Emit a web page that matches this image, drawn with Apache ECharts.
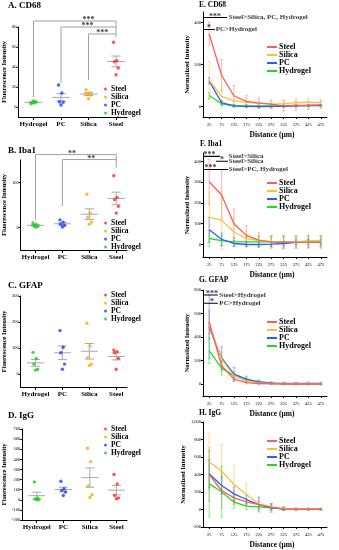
<!DOCTYPE html>
<html><head><meta charset="utf-8">
<script src="https://cdn.jsdelivr.net/npm/echarts@6/dist/echarts.min.js"></script>
<style>html,body{margin:0;padding:0;background:#fff}#c{width:339px;height:550px}</style>
</head><body><div id="c"></div>
<script>
// ---------- data ----------
const categories = ['Hydrogel', 'PC', 'Silica', 'Steel'];
const groupNames = ['Steel', 'Silica', 'PC', 'Hydrogel'];
const distances = [25, 75, 125, 175, 225, 275, 325, 375, 425, 475];

// A. CD68 (fluorescence intensity, individual animals)
const cd68Hydrogel = [3.2, 4.0, 4.6, 5.2, 6.0];
const cd68PC = [22, 14, 5.3, 4.7, 2];
const cd68Silica = [17.3, 14, 13, 12, 8.3];
const cd68Steel = [64.7, 46.3, 45.3, 39, 32.3];
// B. Iba1
const iba1Hydrogel = [10, 7, 4, 2, 1];
const iba1PC = [17, 12, 7, 4.5, 1];
const iba1Silica = [74, 32, 23, 12, 7];
const iba1Steel = [115, 67, 62, 47, 32];
// C. GFAP
const gfapHydrogel = [83, 60, 38, 18, 15];
const gfapPC = [167, 103, 82, 38, 18];
const gfapSilica = [195, 108, 63, 38, 33];
const gfapSteel = [92, 86, 82, 60, 18];
// D. IgG
const iggHydrogel = [177, 15, 8, 3, 0];
const iggPC = [183, 110, 93, 77, 43];
const iggSilica = [510, 377, 137, 50, 23];
const iggSteel = [250, 157, 43, 17, 10];

// E. CD68 normalized intensity vs distance (mean, error)
const cd68DistSteel = [345, 149, 50, 24, 16, 11, 3, 5, 6, 8];
const cd68DistSilica = [125, 48, 27, 20, 16, 11, 14, 18, 21, 18];
const cd68DistPC = [122, 18, 3, 1, 0, 1, 1, 3, 4, 5];
const cd68DistHydrogel = [52, 13, 3, 3, 2, 3, 3, 4, 4, 4];
const cd68ErrSteel = [55, 75, 50, 30, 25, 20, 25, 22, 20, 18];
const cd68ErrSilica = [90, 55, 30, 20, 15, 15, 18, 20, 18, 15];
const cd68ErrPC = [15, 10, 5, 5, 5, 5, 5, 5, 5, 5];
const cd68ErrHydrogel = [15, 8, 5, 5, 5, 5, 5, 5, 5, 5];
// F. Iba1
const iba1DistSteel = [302, 238, 100, 44, 21, 13, 10, 10, 10, 10];
const iba1DistSilica = [132, 116, 60, 29, 19, 13, 10, 13, 16, 16];
const iba1DistPC = [71, 25, 5, 0, 0, 2, 5, 10, 13, 11];
const iba1DistHydrogel = [29, 19, 13, 13, 13, 13, 13, 13, 16, 16];
const iba1ErrSteel = [108, 116, 71, 45, 36, 31, 30, 28, 28, 28];
const iba1ErrSilica = [120, 140, 70, 35, 25, 22, 25, 22, 22, 22];
const iba1ErrPC = [60, 30, 15, 10, 10, 10, 10, 12, 12, 12];
const iba1ErrHydrogel = [40, 25, 20, 25, 25, 25, 30, 30, 30, 28];
// G. GFAP
const gfapDistSteel = [528, 157, 43, 14, 6, 3, 2, 2, 2, 2];
const gfapDistSilica = [500, 214, 71, 29, 11, 5, 3, 3, 3, 3];
const gfapDistPC = [486, 223, 86, 43, 20, 9, 6, 6, 6, 6];
const gfapDistHydrogel = [286, 137, 71, 37, 20, 11, 3, 1, 0, 0];
const gfapErrSteel = [100, 50, 20, 10, 8, 5, 5, 5, 5, 5];
const gfapErrSilica = [120, 60, 30, 15, 10, 8, 5, 5, 5, 5];
const gfapErrPC = [270, 95, 57, 25, 15, 10, 10, 10, 12, 12];
const gfapErrHydrogel = [110, 60, 30, 15, 10, 8, 5, 5, 5, 5];
// H. IgG
const iggDistSteel = [400, 217, 133, 88, 57, 27, 8, 3, 3, 3];
const iggDistSilica = [545, 438, 286, 171, 65, 27, 11, 5, 5, 5];
const iggDistPC = [408, 274, 179, 114, 57, 19, 4, 2, 2, 2];
const iggDistHydrogel = [293, 202, 84, 38, 30, 19, 11, 5, 5, 5];
const iggErrSteel = [305, 200, 80, 40, 40, 30, 20, 10, 10, 10];
const iggErrSilica = [330, 305, 220, 125, 70, 40, 20, 15, 10, 10];
const iggErrPC = [160, 100, 80, 50, 85, 50, 15, 10, 10, 10];
const iggErrHydrogel = [380, 290, 70, 40, 30, 25, 20, 10, 10, 10];

// tick labels
const ticksA = [0, 20, 40, 60, 80];
const ticksB = [0, 100];
const ticksC = [0, 100, 200, 300];
const ticksD = [-200, -100, 0, 100, 200, 300, 400, 500, 600, 700];
const ticksE = [0, 200, 400];
const ticksF = [0, 100, 200, 300, 400];
const ticksG = [0, 200, 400, 600, 800];
const ticksH = [-200, 0, 200, 400, 600, 800, 1000];

// significance annotations (data coordinates)
const sigA = [
  {from: 'Hydrogel', low: 10, high: 86, text: '***', textAt: 3.0},
  {from: 'PC', low: 24, high: 80, text: '***', textAt: 2.96},
  {from: 'Silica', low: 27, high: 73, text: '***', textAt: 3.5}
];
const sigAEnd = 70;
const sigB = [
  {from: 'Hydrogel', low: 18, high: 162, text: '**', textAt: 2.36},
  {from: 'PC', low: 47, high: 151, text: '**', textAt: 3.07}
];
const sigBEnd = 133;
const sigE = [
  {x0: 0, x1: 97, y: 424, stars: '***', starsAt: 48, text: 'Steel>Silica, PC, Hydrogel', textAt: 104},
  {x0: 0, x1: 48, y: 367, stars: '*', starsAt: 24, text: 'PC>Hydrogel', textAt: 51}
];
const sigF = [
  {x0: 0, x1: 69, y: 424, stars: '***', starsAt: 26, text: 'Steel>Silica', textAt: 104},
  {x0: 52, x1: 101, y: 400, stars: '*', starsAt: 77, text: 'Steel>Silica', textAt: 104},
  {x0: 0, x1: 101, y: 361, stars: '***', starsAt: 30, text: 'Steel>PC, Hydrogel', textAt: 104}
];
const sigG = [
  {x0: 0, x1: 60, y: 757, stars: '***', starsAt: 36, text: 'Steel>Hydrogel', textAt: 66},
  {x0: 0, x1: 60, y: 688, stars: '*', starsAt: 36, text: 'PC>Hydrogel', textAt: 66}
];

// ---------- chart ----------
const FONT = 'Liberation Serif';
const scatterColors = {Steel: '#ff2b2b', Silica: '#ffaa00', PC: '#1e3cff', Hydrogel: '#17d017'};
const lineColors = {Steel: '#ff5c5c', Silica: '#ffbe3c', PC: '#2d5bff', Hydrogel: '#1fdc1f'};
const errColors = {Steel: 'rgba(255,110,110,0.45)', Silica: 'rgba(255,190,60,0.45)', PC: 'rgba(45,91,255,0.4)', Hydrogel: 'rgba(31,220,31,0.45)'};
const jitter = [-0.09, 0.03, -0.06, 0.08, 0.0];

const option = {animation: false, backgroundColor: '#fff', title: [], legend: [], grid: [], xAxis: [], yAxis: [], series: []};

function seg(a, b, color, w) {
  return {type: 'line', shape: {x1: a[0], y1: a[1], x2: b[0], y2: b[1]}, style: {stroke: color, lineWidth: w}};
}
function meanSem(arr) {
  const n = arr.length, m = arr.reduce((s, v) => s + v, 0) / n;
  const sd = Math.sqrt(arr.reduce((s, v) => s + (v - m) * (v - m), 0) / (n - 1));
  return [m, sd / Math.sqrt(n)];
}
function axisCommon() {
  return {axisLine: {show: true, onZero: false, lineStyle: {color: '#000', width: 1}}, splitLine: {show: false}};
}

function addTitle(text, left, top, size) {
  option.title.push({text, left, top, padding: 0, textStyle: {fontFamily: FONT, fontSize: size, fontWeight: 'bold', color: '#000'}});
}

function addScatterPanel(p) {
  const g = option.grid.length;
  option.grid.push({left: p.left, top: p.top, width: p.width, height: p.height});
  addTitle(p.title, p.titleX, p.titleY, 9);
  option.xAxis.push(Object.assign(axisCommon(), {
    gridIndex: g, type: 'value', min: 0.45, max: 4.4,
    axisTick: {show: true, customValues: [1, 2, 3, 4], length: 3, lineStyle: {color: '#000'}},
    axisLabel: {customValues: [1, 2, 3, 4], formatter: v => categories[Math.round(v) - 1], fontFamily: FONT, fontSize: 7, fontWeight: 'bold', color: '#000', margin: 4}
  }));
  option.yAxis.push(Object.assign(axisCommon(), {
    gridIndex: g, type: 'value', min: p.ymin, max: p.ymax,
    name: 'Fluorescence Intensity', nameLocation: 'middle', nameGap: 9, nameRotate: 90,
    nameTextStyle: {fontFamily: FONT, fontSize: 6.5, fontWeight: 'bold', color: '#000'},
    axisTick: {show: true, customValues: p.ticks, length: 2, lineStyle: {color: '#000'}},
    axisLabel: {customValues: p.ticks, fontFamily: FONT, fontSize: 4.5, color: '#000', margin: 2}
  }));
  // mean / SEM
  option.series.push({
    type: 'custom', name: 'ms' + g, xAxisIndex: g, yAxisIndex: g, z: 2,
    data: categories.map((c, i) => [i + 1].concat(meanSem(p.data[c]))),
    encode: {x: 0, y: 1},
    renderItem: (params, api) => {
      const x = api.value(0), m = api.value(1), s = api.value(2);
      const pm = api.coord([x, m]), pt = api.coord([x, m + s]), pb = api.coord([x, m - s]);
      const half = api.size([0.32, 0])[0], cap = api.size([0.17, 0])[0];
      const c = '#a9a9a9';
      return {type: 'group', children: [
        seg([pm[0] - half, pm[1]], [pm[0] + half, pm[1]], c, 1),
        seg(pt, pb, c, 1),
        seg([pt[0] - cap, pt[1]], [pt[0] + cap, pt[1]], c, 1),
        seg([pb[0] - cap, pb[1]], [pb[0] + cap, pb[1]], c, 1)
      ]};
    }
  });
  groupNames.forEach(gn => {
    const ci = categories.indexOf(gn) + 1;
    option.series.push({
      type: 'scatter', name: gn + '|' + g, xAxisIndex: g, yAxisIndex: g, z: 5,
      symbol: 'circle', symbolSize: 3.4, itemStyle: {color: scatterColors[gn]},
      data: p.data[gn].map((v, i) => [ci + jitter[i % jitter.length], v])
    });
  });
  option.legend.push({
    orient: 'vertical', left: p.legendX, top: p.legendY, padding: 0, itemGap: 0,
    itemWidth: 3, itemHeight: 3, selectedMode: false,
    data: groupNames.map(n => ({name: n + '|' + g, icon: 'circle'})),
    formatter: n => n.split('|')[0],
    textStyle: {fontFamily: FONT, fontSize: 7.5, fontWeight: 'bold', color: '#000', lineHeight: 6.4, padding: [0, 0, 0, -1]}
  });
  // brackets
  if (p.sig) {
    const annoStyle = {color: '#a0a0a0', width: 1};
    p.sig.forEach(s => {
      const x0 = categories.indexOf(s.from) + 1;
      option.series.push({type: 'line', name: 'br', xAxisIndex: g, yAxisIndex: g, clip: false, symbol: 'none', silent: true,
        lineStyle: annoStyle, data: [[x0, s.low], [x0, s.high], [4, s.high]]});
      option.series.push({type: 'scatter', name: 'st', xAxisIndex: g, yAxisIndex: g, clip: false, symbolSize: 0, silent: true,
        data: [{name: s.text, value: [s.textAt, s.high]}],
        label: {show: true, formatter: '{b}', position: 'top', distance: -3, fontFamily: FONT, fontSize: 8, fontWeight: 'bold', color: '#000'}});
    });
    option.series.push({type: 'line', name: 'br', xAxisIndex: g, yAxisIndex: g, clip: false, symbol: 'none', silent: true,
      lineStyle: annoStyle, data: [[4, p.sig[0].high], [4, p.sigEnd]]});
  }
}

function addLinePanel(p) {
  const g = option.grid.length;
  option.grid.push({left: p.left, top: p.top, width: p.width, height: p.height});
  addTitle(p.title, p.titleX, p.titleY, 7.5);
  option.xAxis.push(Object.assign(axisCommon(), {
    gridIndex: g, type: 'value', min: 0, max: 500,
    name: 'Distance (μm)', nameLocation: 'middle', nameGap: 14,
    nameTextStyle: {fontFamily: FONT, fontSize: 7.5, fontWeight: 'bold', color: '#000', padding: [0, 0, 0, 14]},
    axisTick: {show: true, customValues: distances, length: 2, lineStyle: {color: '#000'}},
    axisLabel: {customValues: distances, fontFamily: FONT, fontSize: 4.5, color: '#000', margin: 5}
  }));
  option.yAxis.push(Object.assign(axisCommon(), {
    gridIndex: g, type: 'value', min: p.ymin, max: p.ymax,
    name: 'Normalized Intensity', nameLocation: 'middle', nameGap: 10, nameRotate: 90,
    nameTextStyle: {fontFamily: FONT, fontSize: 6.5, fontWeight: 'bold', color: '#000'},
    axisTick: {show: true, customValues: p.ticks, length: 2, lineStyle: {color: '#000'}},
    axisLabel: {customValues: p.ticks, fontFamily: FONT, fontSize: 4.5, color: '#000', margin: 2}
  }));
  groupNames.forEach(gn => {
    option.series.push({
      type: 'custom', name: 'err' + gn + g, xAxisIndex: g, yAxisIndex: g, z: 2,
      data: distances.map((d, i) => [d, p.mean[gn][i], p.err[gn][i]]),
      encode: {x: 0, y: 1},
      renderItem: (params, api) => {
        const x = api.value(0), m = api.value(1), e = api.value(2);
        const pt = api.coord([x, m + e]), pb = api.coord([x, m - e]);
        const c = errColors[gn];
        return {type: 'group', children: [
          seg(pt, pb, c, 1.2),
          seg([pt[0] - 1.5, pt[1]], [pt[0] + 1.5, pt[1]], c, 1),
          seg([pb[0] - 1.5, pb[1]], [pb[0] + 1.5, pb[1]], c, 1)
        ]};
      }
    });
  });
  groupNames.slice().reverse().forEach(gn => {
    option.series.push({
      type: 'line', name: gn + '|' + g, xAxisIndex: g, yAxisIndex: g, z: 4,
      symbol: 'none', lineStyle: {color: lineColors[gn], width: 1.3}, itemStyle: {color: lineColors[gn]},
      data: distances.map((d, i) => [d, p.mean[gn][i]])
    });
  });
  option.legend.push({
    orient: 'vertical', left: p.legendX, top: p.legendY, padding: 0, itemGap: 0,
    itemWidth: 10, itemHeight: 2, selectedMode: false,
    data: groupNames.map(n => ({name: n + '|' + g, icon: 'rect'})),
    formatter: n => n.split('|')[0],
    textStyle: {fontFamily: FONT, fontSize: 8, fontWeight: 'bold', color: '#000', lineHeight: 7.2, padding: [0, 0, 0, -3]}
  });
  if (p.sig) {
    p.sig.forEach(s => {
      option.series.push({type: 'line', name: 'an', xAxisIndex: g, yAxisIndex: g, clip: false, symbol: 'none', silent: true,
        lineStyle: {color: '#000', width: 1.1}, data: [[s.x0, s.y], [s.x1, s.y]]});
      option.series.push({type: 'scatter', name: 'st', xAxisIndex: g, yAxisIndex: g, clip: false, symbolSize: 0, silent: true,
        data: [{name: s.stars, value: [s.starsAt, s.y]}],
        label: {show: true, formatter: '{b}', position: 'top', distance: -3, fontFamily: FONT, fontSize: 8, fontWeight: 'bold', color: '#000'}});
      option.series.push({type: 'scatter', name: 'tx', xAxisIndex: g, yAxisIndex: g, clip: false, symbolSize: 0, silent: true,
        data: [{name: s.text, value: [s.textAt, s.y]}],
        label: {show: true, formatter: '{b}', position: 'right', distance: 0, fontFamily: FONT, fontSize: 7, fontWeight: 'bold', color: '#000'}});
    });
  }
}

// left column
addScatterPanel({title: 'A. CD68', titleX: 8, titleY: 1, left: 17, top: 27, width: 110, height: 90, ymin: -10, ymax: 80, ticks: ticksA,
  data: {Hydrogel: cd68Hydrogel, PC: cd68PC, Silica: cd68Silica, Steel: cd68Steel}, legendX: 104, legendY: 85, sig: sigA, sigEnd: sigAEnd});
addScatterPanel({title: 'B. Iba1', titleX: 8, titleY: 146, left: 17, top: 160, width: 110, height: 90, ymin: -50, ymax: 150, ticks: ticksB,
  data: {Hydrogel: iba1Hydrogel, PC: iba1PC, Silica: iba1Silica, Steel: iba1Steel}, legendX: 104, legendY: 219, sig: sigB, sigEnd: sigBEnd});
addScatterPanel({title: 'C. GFAP', titleX: 8, titleY: 281, left: 17, top: 296, width: 110, height: 91, ymin: -50, ymax: 300, ticks: ticksC,
  data: {Hydrogel: gfapHydrogel, PC: gfapPC, Silica: gfapSilica, Steel: gfapSteel}, legendX: 104, legendY: 291});
addScatterPanel({title: 'D. IgG', titleX: 8, titleY: 411, left: 17, top: 429, width: 110, height: 91, ymin: -200, ymax: 700, ticks: ticksD,
  data: {Hydrogel: iggHydrogel, PC: iggPC, Silica: iggSilica, Steel: iggSteel}, legendX: 104, legendY: 425});

// right column
addLinePanel({title: 'E. CD68', titleX: 199, titleY: 1, left: 203, top: 12, width: 124, height: 105, ymin: -50, ymax: 450, ticks: ticksE,
  mean: {Steel: cd68DistSteel, Silica: cd68DistSilica, PC: cd68DistPC, Hydrogel: cd68DistHydrogel},
  err: {Steel: cd68ErrSteel, Silica: cd68ErrSilica, PC: cd68ErrPC, Hydrogel: cd68ErrHydrogel},
  legendX: 267, legendY: 43, sig: sigE});
addLinePanel({title: 'F. Iba1', titleX: 200, titleY: 140, left: 203, top: 153, width: 124, height: 104, ymin: -60, ymax: 440, ticks: ticksF,
  mean: {Steel: iba1DistSteel, Silica: iba1DistSilica, PC: iba1DistPC, Hydrogel: iba1DistHydrogel},
  err: {Steel: iba1ErrSteel, Silica: iba1ErrSilica, PC: iba1ErrPC, Hydrogel: iba1ErrHydrogel},
  legendX: 267, legendY: 179, sig: sigF});
addLinePanel({title: 'G. GFAP', titleX: 199, titleY: 276, left: 203, top: 290, width: 124, height: 106, ymin: -100, ymax: 800, ticks: ticksG,
  mean: {Steel: gfapDistSteel, Silica: gfapDistSilica, PC: gfapDistPC, Hydrogel: gfapDistHydrogel},
  err: {Steel: gfapErrSteel, Silica: gfapErrSilica, PC: gfapErrPC, Hydrogel: gfapErrHydrogel},
  legendX: 267, legendY: 318, sig: sigG});
addLinePanel({title: 'H. IgG', titleX: 199, titleY: 409, left: 203, top: 422, width: 124, height: 105, ymin: -200, ymax: 1000, ticks: ticksH,
  mean: {Steel: iggDistSteel, Silica: iggDistSilica, PC: iggDistPC, Hydrogel: iggDistHydrogel},
  err: {Steel: iggErrSteel, Silica: iggErrSilica, PC: iggErrPC, Hydrogel: iggErrHydrogel},
  legendX: 267, legendY: 437});

const chart = echarts.init(document.getElementById('c'), null, {renderer: 'canvas'});
chart.setOption(option);
</script>
</body></html>
